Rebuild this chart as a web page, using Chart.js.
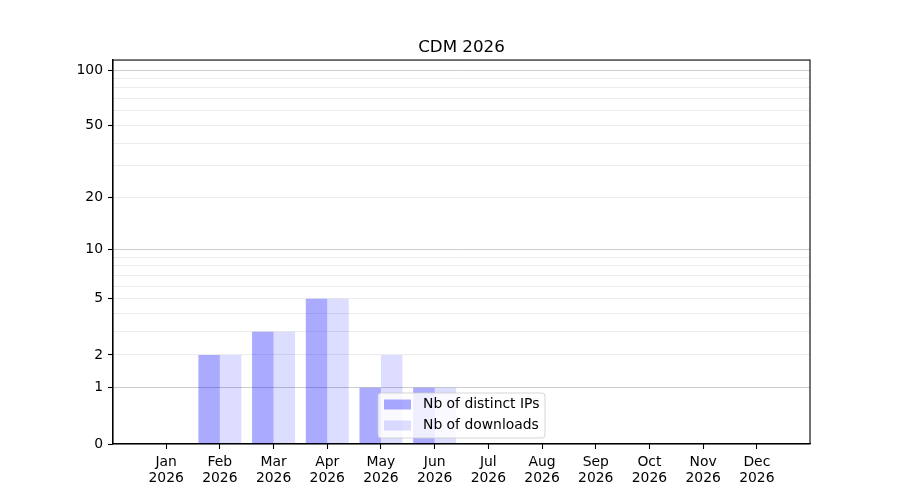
<!DOCTYPE html>
<html><head><meta charset="utf-8">
<script src="https://cdn.jsdelivr.net/npm/chart.js@4.4.1/dist/chart.umd.min.js"></script>
<style>html,body{margin:0;padding:0;background:#fff;overflow:hidden}canvas{display:block}</style>
</head><body>
<canvas id="c" width="900" height="500" style="width:900px;height:500px"></canvas>
<script>
// ---- data ----
const months = ['Jan','Feb','Mar','Apr','May','Jun','Jul','Aug','Sep','Oct','Nov','Dec'];
const yearLabel = '2026';
const titleText = 'CDM 2026';
const seriesNames = ['Nb of distinct IPs', 'Nb of downloads'];
const distinctIPs = [0, 2, 3, 5, 1, 1, 0, 0, 0, 0, 0, 0];
const downloads   = [0, 2, 3, 5, 2, 1, 0, 0, 0, 0, 0, 0];
const yLabeledTicks = [0, 1, 2, 5, 10, 20, 50, 100];
const yMinorTicks = [3, 4, 6, 7, 8, 9, 30, 40, 60, 70, 80, 90];
const yStrongGrid = [1, 10, 100];

// ---- log10(1+x) scale ----
const tf = v => Math.log10(1 + v);
class Log1pScale extends Chart.LinearScale {
  buildTicks() {
    const all = yLabeledTicks.concat(yMinorTicks).filter(v => v >= this.min && v <= this.max).sort((a,b)=>a-b);
    return all.map(v => ({ value: v }));
  }
  getPixelForValue(value) {
    if (value === null || value === undefined || isNaN(value)) return NaN;
    return this.getPixelForDecimal((tf(value) - tf(this.min)) / (tf(this.max) - tf(this.min)));
  }
  getValueForPixel(pixel) {
    const d = this.getDecimalForPixel(pixel);
    return Math.pow(10, tf(this.min) + d * (tf(this.max) - tf(this.min))) - 1;
  }
}
Log1pScale.id = 'log1p';
Log1pScale.defaults = {};
Chart.register(Log1pScale);

Chart.defaults.font.family = "'DejaVu Sans', sans-serif";
Chart.defaults.font.size = 13.9;
Chart.defaults.color = '#000';

const colors = ['rgba(0,0,255,0.333)', 'rgba(0,0,255,0.133)'];

const framePlugin = {
  id: 'frame',
  afterDraw(chart) {
    const ctx = chart.ctx, a = chart.chartArea;
    ctx.save();
    // legend
    const cx = (a.left + a.right) / 2;
    const bx = cx - 83.5, bw = 167, bh = 45, by = a.bottom - 6 - bh;
    const r = 3;
    ctx.beginPath();
    ctx.moveTo(bx + r, by);
    ctx.arcTo(bx + bw, by, bx + bw, by + bh, r);
    ctx.arcTo(bx + bw, by + bh, bx, by + bh, r);
    ctx.arcTo(bx, by + bh, bx, by, r);
    ctx.arcTo(bx, by, bx + bw, by, r);
    ctx.closePath();
    ctx.fillStyle = 'rgba(255,255,255,0.8)';
    ctx.fill();
    ctx.strokeStyle = 'rgba(204,204,204,0.8)';
    ctx.lineWidth = 1;
    ctx.stroke();
    ctx.font = "13.9px 'DejaVu Sans', sans-serif";
    ctx.textBaseline = 'middle';
    ctx.fillStyle = '#000';
    seriesNames.forEach((n, i) => {
      const rowY = by + 11.5 + i * 21;
      ctx.fillStyle = colors[i];
      ctx.fillRect(bx + 6, rowY - 5, 27, 10);
      ctx.fillStyle = '#000';
      ctx.fillText(n, bx + 45, rowY);
    });
    // spines
    ctx.strokeStyle = '#000';
    ctx.lineWidth = 1.1;
    ctx.strokeRect(a.left, a.top, a.right - a.left, a.bottom - a.top);
    ctx.restore();
  }
};

new Chart(document.getElementById('c'), {
  type: 'bar',
  data: {
    datasets: [
      { label: seriesNames[0], data: distinctIPs.map((v, i) => ({ x: i, y: v })), backgroundColor: colors[0], borderWidth: 0 },
      { label: seriesNames[1], data: downloads.map((v, i) => ({ x: i, y: v })), backgroundColor: colors[1], borderWidth: 0 }
    ]
  },
  options: {
    responsive: false,
    animation: false,
    devicePixelRatio: 1,
    layout: { padding: { left: 0, right: 90, top: 0, bottom: 0 } },
    datasets: { bar: { categoryPercentage: 0.8, barPercentage: 1.0 } },
    plugins: {
      legend: { display: false },
      tooltip: { enabled: false },
      title: {
        display: true, text: titleText, color: '#000', fullSize: false,
        font: { size: 16.7, weight: 'normal' },
        padding: { top: 38, bottom: 2 }
      }
    },
    scales: {
      x: {
        type: 'linear', min: -0.99, max: 11.99, offset: false,
        afterBuildTicks: s => { s.ticks = months.map((m, i) => ({ value: i })); },
        afterFit: s => { s.height = 56; },
        ticks: {
          autoSkip: false, maxRotation: 0, minRotation: 0, padding: 5,
          font: { lineHeight: 1.18 },
          callback: v => [months[v], yearLabel]
        },
        grid: { drawOnChartArea: false, drawTicks: true, tickLength: 5, tickColor: '#000', tickWidth: 1.1, offset: false },
        border: { display: true, color: '#000', width: 1.1 }
      },
      y: {
        type: 'log1p', min: 0, max: 113.3,
        afterFit: s => { s.width = 113; },
        ticks: {
          autoSkip: false, padding: 5,
          callback: v => yLabeledTicks.includes(v) ? String(v) : ''
        },
        grid: {
          drawTicks: true, tickLength: 5, tickWidth: 1.1,
          color: c => c.tick && c.tick.value === 0 ? 'rgba(0,0,0,0)' : (c.tick && yStrongGrid.includes(c.tick.value) ? '#cccccc' : '#ececec'),
          tickColor: c => c.tick && yLabeledTicks.includes(c.tick.value) ? '#000' : 'rgba(0,0,0,0)'
        },
        border: { display: true, color: '#000', width: 1.1 }
      }
    }
  },
  plugins: [framePlugin]
});
</script>
</body></html>
